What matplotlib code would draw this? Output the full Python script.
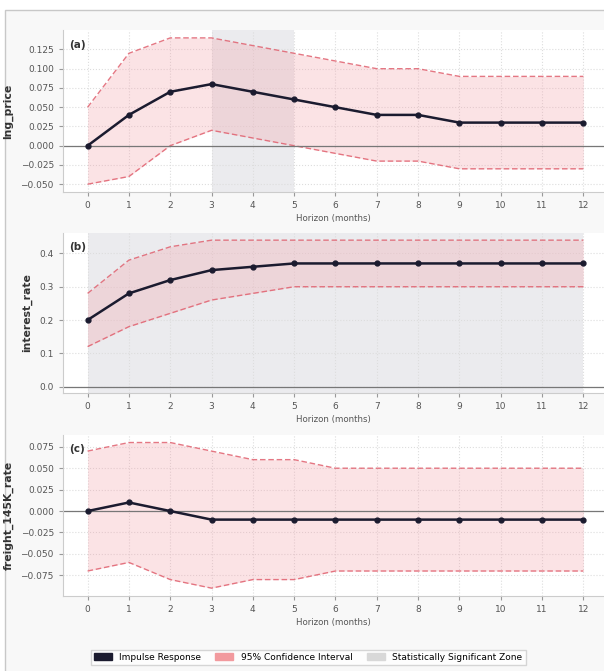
import matplotlib
matplotlib.use('Agg')
import matplotlib.pyplot as plt
from matplotlib.patches import Patch, Rectangle

horizon = list(range(13))

# lng_price response
lng_irf = [0.0, 0.04, 0.07, 0.08, 0.07, 0.06, 0.05, 0.04, 0.04, 0.03, 0.03, 0.03, 0.03]
lng_up = [0.05, 0.12, 0.14, 0.14, 0.13, 0.12, 0.11, 0.10, 0.10, 0.09, 0.09, 0.09, 0.09]
lng_lo = [-0.05, -0.04, 0.0, 0.02, 0.01, 0.0, -0.01, -0.02, -0.02, -0.03, -0.03, -0.03, -0.03]
lng_zone = (3, 5)

# interest_rate response
ir_irf = [0.20, 0.28, 0.32, 0.35, 0.36, 0.37, 0.37, 0.37, 0.37, 0.37, 0.37, 0.37, 0.37]
ir_up = [0.28, 0.38, 0.42, 0.44, 0.44, 0.44, 0.44, 0.44, 0.44, 0.44, 0.44, 0.44, 0.44]
ir_lo = [0.12, 0.18, 0.22, 0.26, 0.28, 0.30, 0.30, 0.30, 0.30, 0.30, 0.30, 0.30, 0.30]
ir_zone = (0, 12)

# freight_145K_rate response
fr_irf = [0.0, 0.01, 0.0, -0.01, -0.01, -0.01, -0.01, -0.01, -0.01, -0.01, -0.01, -0.01, -0.01]
fr_up = [0.07, 0.08, 0.08, 0.07, 0.06, 0.06, 0.05, 0.05, 0.05, 0.05, 0.05, 0.05, 0.05]
fr_lo = [-0.07, -0.06, -0.08, -0.09, -0.08, -0.08, -0.07, -0.07, -0.07, -0.07, -0.07, -0.07, -0.07]

panels = [
    ('(a)', 'lng_price', lng_irf, lng_up, lng_lo, lng_zone, (-0.06, 0.15), [-0.05, -0.025, 0, 0.025, 0.05, 0.075, 0.1, 0.125], '{:.3f}'),
    ('(b)', 'interest_rate', ir_irf, ir_up, ir_lo, ir_zone, (-0.02, 0.462), [0, 0.1, 0.2, 0.3, 0.4], '{:.1f}'),
    ('(c)', 'freight_145K_rate', fr_irf, fr_up, fr_lo, None, (-0.099, 0.089), [-0.075, -0.05, -0.025, 0, 0.025, 0.05, 0.075], '{:.3f}'),
]

line_col = '#1b1b2f'
ci_col = '#f4a3ab'
ci_edge = '#e0606e'
zone_col = '#d9d9de'

fig = plt.figure(figsize=(6.04, 6.71), dpi=100, facecolor='white')
# outer frame of the figure canvas
fig.patches.append(Rectangle((5 / 604, -0.05), 1.1, 1 - 10 / 671 + 0.05, transform=fig.transFigure,
                             facecolor='#f8f8f8', edgecolor='#c8c8c8', linewidth=1, zorder=-10))

boxes = [(0.714, 0.241), (0.414, 0.239), (0.112, 0.240)]

for (tag, name, irf, up, lo, zone, ylim, yticks, fmt), (b, h) in zip(panels, boxes):
    ax = fig.add_axes([0.104, b, 0.896, h])
    ax.set_facecolor('white')
    if zone is not None:
        ax.axvspan(zone[0], zone[1], color=zone_col, alpha=0.5, lw=0, zorder=0)
    ax.fill_between(horizon, lo, up, color=ci_col, alpha=0.3, lw=0, zorder=1)
    ax.plot(horizon, up, ls='--', color=ci_edge, lw=1, alpha=0.85, dashes=(4, 2), zorder=2)
    ax.plot(horizon, lo, ls='--', color=ci_edge, lw=1, alpha=0.85, dashes=(4, 2), zorder=2)
    ax.axhline(0, color='#777777', lw=0.9, zorder=2)
    ax.plot(horizon, irf, color=line_col, lw=1.8, marker='o', ms=3.5, zorder=3)
    ax.set_xlim(-0.6, 12.5)
    ax.set_ylim(*ylim)
    ax.set_xticks(horizon)
    ax.set_yticks(yticks)
    ax.set_yticklabels([fmt.format(v).replace('-', '\u2212') for v in yticks])
    ax.grid(True, ls=':', color='#dddddd', lw=0.8)
    ax.set_axisbelow(True)
    for s in ['top', 'right']:
        ax.spines[s].set_visible(False)
    for s in ['left', 'bottom']:
        ax.spines[s].set_color('#cccccc')
    ax.tick_params(labelsize=6.5, colors='#555555', length=3, color='#999999')
    ax.set_xlabel('Horizon (months)', fontsize=6.2, color='#555555', labelpad=3)
    ax.set_ylabel(name, fontsize=7.8, fontweight='bold', color='#333333', labelpad=5)
    ax.text(0.012, 0.94, tag, transform=ax.transAxes, fontsize=7.5, fontweight='bold',
            color='#333333', va='top')

handles = [Patch(facecolor=line_col, edgecolor=line_col, label='Impulse Response'),
           Patch(facecolor='#f29a9e', edgecolor='#f29a9e', label='95% Confidence Interval'),
           Patch(facecolor='#d8d8d8', edgecolor='#d8d8d8', label='Statistically Significant Zone')]
fig.legend(handles=handles, loc='lower center', bbox_to_anchor=(0.51, 0.002), ncol=3,
           fontsize=6.5, frameon=True, edgecolor='#cccccc', fancybox=False,
           handlelength=2.0, handleheight=0.8, columnspacing=1.6, borderpad=0.35)

fig.savefig('out.png', dpi=100)
